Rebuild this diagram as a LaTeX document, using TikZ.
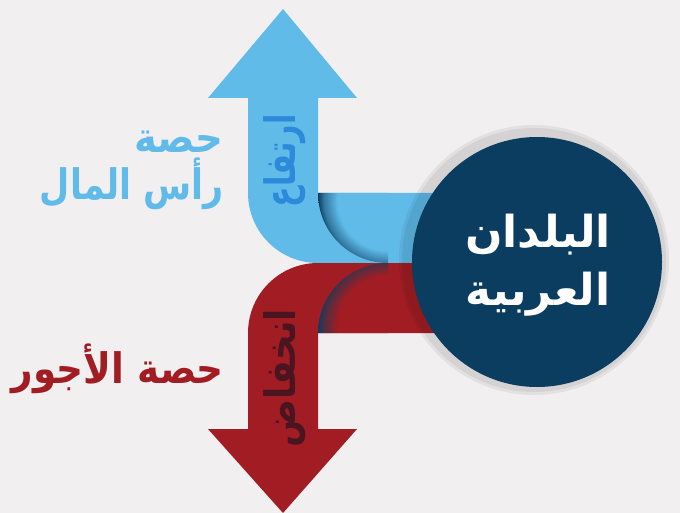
\documentclass[tikz,border=0pt]{standalone}
\usepackage{fontspec}
\usepackage{graphicx}
\usetikzlibrary{positioning}
\TeXXeTstate=1
\newfontfamily\arabicfont[Script=Arabic]{DejaVu Sans}

\definecolor{bgcol}{HTML}{F1EFF0}
\definecolor{upblue}{HTML}{60BBE9}
\definecolor{upbluedark}{HTML}{2D89D9}
\definecolor{downred}{HTML}{A11D23}
\definecolor{downreddark}{HTML}{4A1520}
\definecolor{navy}{HTML}{0A3D5F}

% shadings for the folds where the ribbons turn (edge of the circle at 25bp)
\pgfdeclareradialshading{foldblue}{\pgfpoint{0bp}{-4bp}}{color(0bp)=(upblue); color(18bp)=(upblue); color(23bp)=(upblue!45!navy); color(25bp)=(navy); color(50bp)=(navy)}
\pgfdeclareradialshading{foldred}{\pgfpoint{0bp}{4bp}}{color(0bp)=(downred); color(18bp)=(downred); color(23bp)=(downred!45!navy); color(25bp)=(navy); color(50bp)=(navy)}

\newcommand{\squeeze}[2]{\scalebox{#1}[1]{#2}} % narrower arabic words

\tikzset{
x=1pt, y=-1pt, % one unit per pixel, y running down
arabic/.style={font=\arabicfont\bfseries\fontsize{42}{58}\selectfont, inner sep=0pt}, % all the texts
ring/.style={fill=black, opacity=0.06}, % shadow round the circle
}

\begin{document}
\begin{tikzpicture}
        \fill[bgcol] (0,0) rectangle (680,513);
        \useasboundingbox (0,0) rectangle (680,513);

        % rising ribbon
        \fill[upblue] (470,193) -- (318,193) -- (318,98) -- (357,98) -- (283,9) -- (208,98) -- (248,98) -- (248,193)
        .. controls (248,231.7) and (279.3,263) .. (318,263) -- (470,263) -- cycle;
        % falling ribbon
        \fill[downred] (470,263) -- (318,263) .. controls (279.3,263) and (248,294.3) .. (248,333)
        -- (248,429) -- (208,429) -- (283,513) -- (357,429) -- (318,429) -- (318,333) -- (470,333) -- cycle;

        % folds
        \begin{scope}
        \clip (388,193) -- (318,193) .. controls (318,231.7) and (349.3,263) .. (388,263) -- cycle;
        \shade[shading=foldblue] (388,193) circle[radius=70pt];
        \end{scope}
        \begin{scope}
        \clip (388,333) -- (318,333) .. controls (318,294.3) and (349.3,263) .. (388,263) -- cycle;
        \shade[shading=foldred] (388,333) circle[radius=70pt];
        \end{scope}

        % ring and circle
        \fill[ring] (534,260) circle[radius=135pt];
        \fill[ring] (534,260) circle[radius=132pt];
        \node[circle, fill=navy, minimum size=250pt, inner sep=0pt] (arab) at (537,262) {};
        \node[arabic, text=white, align=center, font=\arabicfont\bfseries\fontsize{44}{58}\selectfont] (arabtext) at (538,265)
        {\beginR البلدان\endR\\\beginR العربية\endR};

        % words inside the ribbons
        \node[arabic, rotate=90, text=upbluedark] (rise) at (285,161) {\squeeze{0.72}{\beginR ارتفاع\endR}};
        \node[arabic, rotate=90, text=downreddark] (fall) at (285,378) {\squeeze{0.85}{\beginR انخفاض\endR}};

        % labels on the left
        \node[arabic, text=upblue, anchor=base east] (capshare) at (224,153) {\squeeze{0.92}{\beginR حصة\endR}};
        \node[arabic, text=upblue, anchor=base east] (capital) at ([yshift=-47pt]capshare.base east) {\squeeze{0.83}{\beginR رأس المال\endR}};
        \node[arabic, text=downred, anchor=base east] (wageshare) at (224,383) {\squeeze{0.89}{\beginR حصة الأجور\endR}};
      \end{tikzpicture}
\end{document}
